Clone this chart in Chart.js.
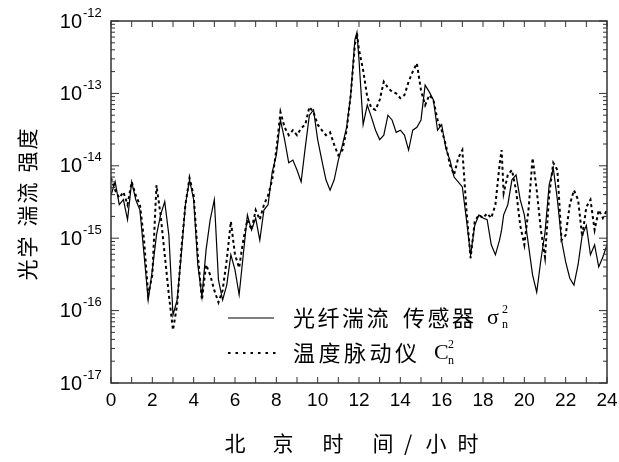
<!DOCTYPE html>
<html lang="zh">
<head>
<meta charset="UTF-8">
<title>光学湍流强度</title>
<script src="https://cdn.jsdelivr.net/npm/chart.js"></script>
<style>
    body { margin: 0; background: #fff; }
    canvas { display: block; }
</style>
</head>
<body>
<canvas id="chart" width="619" height="462"></canvas>
<script>
    // 北京时间 (小时)
    const hours = [
        0, 0.2, 0.4, 0.6, 0.8, 1, 1.2, 1.4, 1.6, 1.8, 2, 2.2, 2.4, 2.6, 2.8, 3, 3.2, 3.4, 3.6, 3.8,
        4, 4.2, 4.4, 4.6, 4.8, 5, 5.2, 5.4, 5.6, 5.8, 6, 6.2, 6.4, 6.6, 6.8, 7, 7.2, 7.4, 7.6, 7.8,
        8, 8.2, 8.4, 8.6, 8.8, 9, 9.2, 9.4, 9.6, 9.8, 10, 10.2, 10.4, 10.6, 10.8, 11, 11.2, 11.4, 11.6, 11.8, 11.9,
        12, 12.2, 12.4, 12.6, 12.8, 13, 13.2, 13.4, 13.6, 13.8, 14, 14.2, 14.4, 14.6, 14.8, 15, 15.2, 15.4, 15.6, 15.8,
        16, 16.2, 16.4, 16.6, 16.8, 17, 17.2, 17.4, 17.6, 17.8, 18, 18.2, 18.4, 18.6, 18.8, 18.9, 19, 19.2, 19.4, 19.6, 19.8,
        20, 20.2, 20.4, 20.6, 20.8, 21, 21.2, 21.4, 21.6, 21.8, 22, 22.2, 22.4, 22.6, 22.8, 23, 23.2, 23.4, 23.6, 23.8, 24
    ];

    // 光纤湍流传感器 sigma_n^2 (实线)
    const fiberValues = [
        3.9e-15, 6.0e-15, 2.9e-15, 3.4e-15, 1.8e-15, 6.0e-15, 3.4e-15, 2.45e-15, 5.9e-16, 1.4e-16,
        3.65e-16, 1.1e-15, 2.1e-15, 3.2e-15, 1.1e-15, 8.7e-17, 1.4e-16, 5.9e-16, 2.9e-15, 6.4e-15,
        3.4e-15, 4.3e-16, 1.55e-16, 6.9e-16, 1.8e-15, 3.4e-15, 2.65e-16, 1.4e-16, 2.25e-16, 5.9e-16,
        3.65e-16, 1.65e-16, 5.9e-16, 2.1e-15, 1.3e-15, 1.9e-15, 9.4e-16, 2.45e-15, 2.9e-15, 8.2e-15,
        1.4e-14, 4.3e-14, 2.3e-14, 1.1e-14, 1.2e-14, 8.75e-15, 6.0e-15, 1.8e-14, 5.0e-14, 5.9e-14,
        2.3e-14, 1.2e-14, 6.4e-15, 4.6e-15, 6.4e-15, 1.2e-14, 1.95e-14, 3.4e-14, 9.5e-14, 5.5e-13, 7.0e-13,
        2.9e-13, 3.7e-14, 6.9e-14, 4.7e-14, 3.1e-14, 2.3e-14, 2.65e-14, 5.0e-14, 4.3e-14, 2.9e-14,
        3.1e-14, 2.65e-14, 1.65e-14, 3.1e-14, 3.4e-14, 4.3e-14, 1.3e-13, 1.05e-13, 8.1e-14, 3.1e-14,
        3.7e-14, 1.75e-14, 1.2e-14, 7.0e-15, 6.0e-15, 5.1e-15, 1.8e-15, 5.9e-16, 1.5e-15, 2.1e-15,
        1.9e-15, 1.8e-15, 8.1e-16, 5.9e-16, 9.4e-16, 1.3e-15, 2.1e-15, 2.9e-15, 6.4e-15, 7.5e-15, 3.4e-15,
        2.1e-15, 8.1e-16, 3.1e-16, 1.8e-16, 5.0e-16, 1.2e-15, 5.4e-15, 9.3e-15, 3.4e-15, 9.4e-16,
        4.7e-16, 2.8e-16, 2.25e-16, 4.3e-16, 1.1e-15, 1.5e-15, 5.9e-16, 8.1e-16, 4.0e-16, 5.5e-16, 8.1e-16
    ];

    // 温度脉动仪 C_n^2 (点线)
    const probeValues = [
        6.8e-15, 4.6e-15, 3.6e-15, 4.35e-15, 2.9e-15, 6.0e-15, 3.9e-15, 2.9e-15, 9.4e-16, 1.65e-16,
        3.1e-16, 5.4e-15, 2.1e-15, 5.9e-16, 1.65e-16, 5.4e-17, 1.2e-16, 6.9e-16, 2.9e-15, 6.8e-15,
        3.9e-15, 5.9e-16, 1.4e-16, 4.3e-16, 3.1e-16, 1.9e-16, 1.3e-16, 1.9e-16, 5.0e-16, 1.7e-15,
        5.9e-16, 3.9e-16, 9.4e-16, 1.8e-15, 1.3e-15, 2.45e-15, 1.8e-15, 2.9e-15, 3.9e-15, 6.4e-15,
        1.65e-14, 5.5e-14, 3.4e-14, 2.65e-14, 3.1e-14, 2.65e-14, 3.3e-14, 3.7e-14, 6.5e-14, 5.5e-14,
        3.7e-14, 3.1e-14, 2.65e-14, 2.9e-14, 1.95e-14, 1.4e-14, 1.65e-14, 3.1e-14, 9.5e-14, 4.65e-13, 6.8e-13,
        4.0e-13, 2.1e-13, 8.9e-14, 6.3e-14, 5.9e-14, 8.1e-14, 1.45e-13, 1.2e-13, 1.05e-13, 1.0e-13,
        8.6e-14, 9.5e-14, 1.45e-13, 2.0e-13, 2.6e-13, 1.1e-13, 6.9e-14, 9.5e-14, 8.1e-14, 4.3e-14,
        3.1e-14, 1.95e-14, 1.03e-14, 7.5e-15, 1.28e-14, 1.65e-14, 2.45e-15, 5.3e-16, 1.7e-15, 2.1e-15,
        1.9e-15, 2.2e-15, 1.9e-15, 2.9e-15, 1.03e-14, 1.65e-14, 4.2e-15, 7.5e-15, 8.75e-15, 4.6e-15, 1.5e-15,
        8.1e-16, 2.45e-15, 1.28e-14, 4.6e-15, 1.3e-15, 5.5e-16, 3.9e-15, 1.1e-14, 8.75e-15, 9.4e-16,
        1.1e-15, 2.9e-15, 4.6e-15, 3.4e-15, 1.05e-15, 2.7e-15, 3.4e-15, 1.3e-15, 2.45e-15, 1.9e-15, 2.45e-15
    ];

    const xTickLabels = ['0', '2', '4', '6', '8', '10', '12', '14', '16', '18', '20', '22', '24'];
    const yTickExponents = [-12, -13, -14, -15, -16, -17];
    const yTitle = '光学 湍流 强度';
    const xTitle = ['北', '京', '时', '间', '/', '小', '时'];
    const legendFiber = ['光纤湍流', '传感器'];
    const legendProbe = ['温度脉动仪'];

    const CJK = '"Noto Sans CJK SC", sans-serif';
    const SANS = '"Liberation Sans", Arial, sans-serif';
    const SERIF = '"Liberation Serif", "DejaVu Serif", serif';

    // 按固定字距逐字绘制
    function drawSpaced(ctx, text, x, y, pitch) {
        for (const ch of text) {
            ctx.fillText(ch, x, y);
            x += pitch;
        }
        return x;
    }

    const framePlugin = {
        id: 'frame',
        afterDraw(chart) {
            const ctx = chart.ctx;
            const a = chart.chartArea;
            const xs = chart.scales.x;
            const ys = chart.scales.y;
            ctx.save();

            // 坐标框
            ctx.strokeStyle = '#333';
            ctx.lineWidth = 1.5;
            ctx.strokeRect(a.left, a.top, a.right - a.left, a.bottom - a.top);

            // 刻度 (向内)
            ctx.lineWidth = 1;
            ctx.beginPath();
            for (let h = 0; h <= 24; h++) {
                const x = xs.getPixelForValue(h);
                ctx.moveTo(x, a.bottom); ctx.lineTo(x, a.bottom - 6);
                ctx.moveTo(x, a.top); ctx.lineTo(x, a.top + 6);
            }
            yTickExponents.forEach(e => {
                for (let m = 1; m <= 9; m++) {
                    if (e === -12 && m > 1) continue;
                    const y = ys.getPixelForValue(m * Math.pow(10, e));
                    const len = m === 1 ? 8 : 4;
                    ctx.moveTo(a.left, y); ctx.lineTo(a.left + len, y);
                    ctx.moveTo(a.right, y); ctx.lineTo(a.right - len, y);
                }
            });
            ctx.stroke();

            ctx.fillStyle = '#000';

            // x 刻度标签
            ctx.font = '19px ' + SANS;
            ctx.textAlign = 'center';
            ctx.textBaseline = 'middle';
            xTickLabels.forEach(t => {
                ctx.fillText(t, xs.getPixelForValue(Number(t)), 401);
            });

            // y 刻度标签 10^n
            yTickExponents.forEach(e => {
                const y = ys.getPixelForValue(Math.pow(10, e));
                ctx.font = '20px ' + SANS;
                ctx.textAlign = 'right';
                ctx.fillText('10', 82, y + 1);
                ctx.font = '13px ' + SANS;
                ctx.textAlign = 'left';
                ctx.fillText(String(e), 83, y - 8);
            });

            // y 轴标题 (竖排旋转)
            ctx.font = '21px ' + CJK;
            ctx.textAlign = 'center';
            let cy = 270;
            for (const ch of yTitle) {
                if (ch === ' ') { cy -= 8; continue; }
                ctx.save();
                ctx.translate(27, cy);
                ctx.rotate(-Math.PI / 2);
                ctx.fillText(ch, 0, 0);
                ctx.restore();
                cy -= 23;
            }

            // x 轴标题
            const xPos = [235, 283, 333, 383, 408, 436, 468];
            xTitle.forEach((ch, i) => ctx.fillText(ch, xPos[i], 443));

            // 图例
            ctx.strokeStyle = '#000';
            ctx.lineWidth = 1.2;
            ctx.beginPath();
            ctx.moveTo(228, 318); ctx.lineTo(274, 318);
            ctx.stroke();
            ctx.setLineDash([2.5, 5]);
            ctx.lineWidth = 2;
            ctx.beginPath();
            ctx.moveTo(228, 353); ctx.lineTo(276, 353);
            ctx.stroke();
            ctx.setLineDash([]);

            ctx.font = '22px ' + CJK;
            ctx.textAlign = 'left';
            drawSpaced(ctx, legendFiber[0], 293, 318, 24.5);
            drawSpaced(ctx, legendFiber[1], 403, 318, 24.5);
            drawSpaced(ctx, legendProbe[0], 293, 353, 25.5);

            ctx.font = '22px ' + SERIF;
            ctx.fillText('σ', 487, 318);
            ctx.fillText('C', 434, 353);
            ctx.font = '12px ' + SERIF;
            ctx.fillText('2', 502, 310);
            ctx.fillText('n', 502, 325);
            ctx.fillText('2', 448, 345);
            ctx.fillText('n', 448, 361);

            ctx.restore();
        }
    };

    const toPoints = vals => hours.map((h, i) => ({ x: h, y: vals[i] }));

    new Chart(document.getElementById('chart').getContext('2d'), {
        type: 'line',
        data: {
            datasets: [
                {
                    label: '光纤湍流 传感器',
                    data: toPoints(fiberValues),
                    borderColor: '#000',
                    borderWidth: 1.2,
                    pointRadius: 0,
                    tension: 0
                },
                {
                    label: '温度脉动仪',
                    data: toPoints(probeValues),
                    borderColor: '#000',
                    borderWidth: 2,
                    borderDash: [3, 3],
                    pointRadius: 0,
                    tension: 0
                }
            ]
        },
        options: {
            responsive: false,
            animation: false,
            layout: { padding: { left: 111, right: 12, top: 21, bottom: 79 } },
            scales: {
                x: { type: 'linear', min: 0, max: 24, display: false },
                y: { type: 'logarithmic', min: 1e-17, max: 1e-12, display: false }
            },
            plugins: {
                legend: { display: false },
                tooltip: { enabled: false }
            }
        },
        plugins: [framePlugin]
    });
</script>
</body>
</html>
